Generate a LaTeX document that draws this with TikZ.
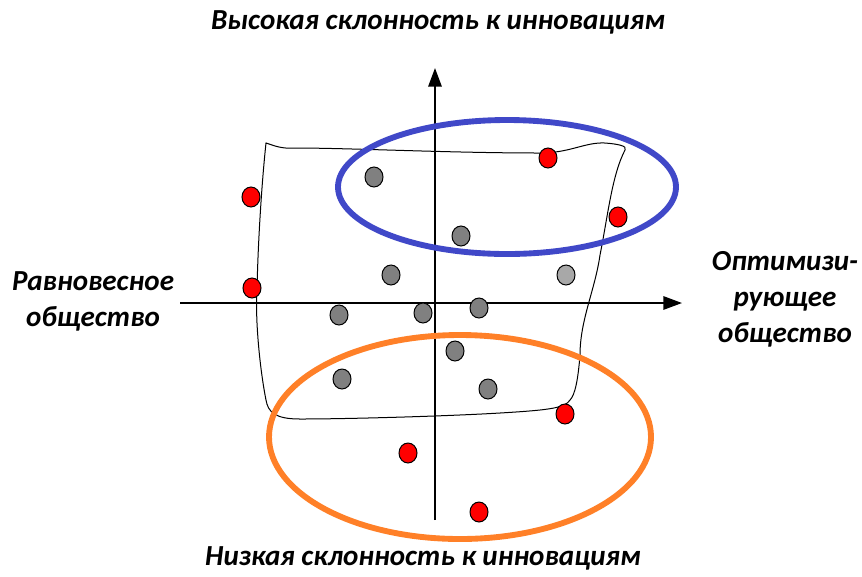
\documentclass[tikz,border=0pt]{standalone}
\usepackage{fontspec}
\setmainfont{Carlito}
\usetikzlibrary{arrows.meta,shapes.geometric}

\definecolor{ovalblue}{RGB}{64,72,200}
\definecolor{ovalorange}{RGB}{255,128,40}
\definecolor{dotgray}{RGB}{128,128,128}
\definecolor{dotlight}{RGB}{168,168,168}

\tikzset{every picture/.style={line width=0.75pt}}
\tikzset{
  axis/.style={line width=1.5pt, -{Triangle[length=14pt,width=10pt]}},
  label/.style={inner sep=0.75pt, align=center, font=\fontsize{21.8}{27}\selectfont\bfseries\itshape},
  reddot/.style={ellipse, draw, fill=red, minimum width=13.5pt, minimum height=15pt, inner sep=0pt},
  graydot/.style={reddot, fill=dotgray},
  lightdot/.style={reddot, fill=dotlight},
  oval/.style={line width=4.4pt}
}

\begin{document}
\begin{tikzpicture}[x=0.75pt,y=0.75pt,yscale=-1,xscale=1]
\useasboundingbox (0,0) rectangle (862,576);

%Axes
\coordinate (ybot) at (435,520);
\coordinate (ytop) at (435,68);
\coordinate (xleft) at (180,303);
\coordinate (xright) at (682,303);
\draw [axis] (ybot) -- (ytop);
\draw [axis] (xleft) -- (xright);

%Hand drawn outline
\draw [line width=0.75pt]  (266,143) .. controls (275,146) and (282,149) .. (295,148)
  .. controls (350,148) and (450,153) .. (540,153)
  .. controls (570,153) and (585,142) .. (605,143)
  .. controls (618,144) and (628,146) .. (625,150)
  .. controls (612,175) and (608,215) .. (600,255)
  .. controls (595,290) and (580,320) .. (580,355)
  .. controls (578,380) and (575,395) .. (570,400)
  .. controls (565,408) and (550,410) .. (500,413)
  .. controls (450,416) and (350,419) .. (300,419)
  .. controls (275,419) and (268,412) .. (266,400)
  .. controls (260,370) and (255,320) .. (257,290)
  .. controls (258,240) and (262,180) .. (266,143) -- cycle;

%Ovals
\draw [oval, color=ovalblue] (507,187) ellipse [x radius=169, y radius=67];
\draw [oval, color=ovalorange] (460,437) ellipse [x radius=191, y radius=102];

%Gray dots
\node [graydot] (g1) at (374,177) {};
\node [graydot] (g2) at (461,236) {};
\node [graydot] (g3) at (391,275) {};
\node [lightdot] (g4) at (566,275) {};
\node [graydot] (g5) at (339,315) {};
\node [graydot] (g6) at (423,313) {};
\node [graydot] (g7) at (479,308) {};
\node [graydot] (g8) at (455,351) {};
\node [graydot] (g9) at (342,379) {};
\node [graydot] (g10) at (488,389) {};

%Red dots
\node [reddot] (r1) at (251,197) {};
\node [reddot] (r2) at (252,288) {};
\node [reddot] (r3) at (548,158) {};
\node [reddot] (r4) at (618,217) {};
\node [reddot] (r5) at (565,414) {};
\node [reddot] (r6) at (408,453) {};
\node [reddot] (r7) at (479,512) {};

% Text Node
\node [label] (high) at (438,22) {Высокая склонность к инновациям};
% Text Node
\node [label] (low) at (423,558) {Низкая склонность к инновациям};
% Text Node
\node [label] (equil) at (93,301) {Равновесное\\общество};
\node [label] (optim) at (785,299) {Оптимизи-\\рующее\\общество};

\end{tikzpicture}
\end{document}
